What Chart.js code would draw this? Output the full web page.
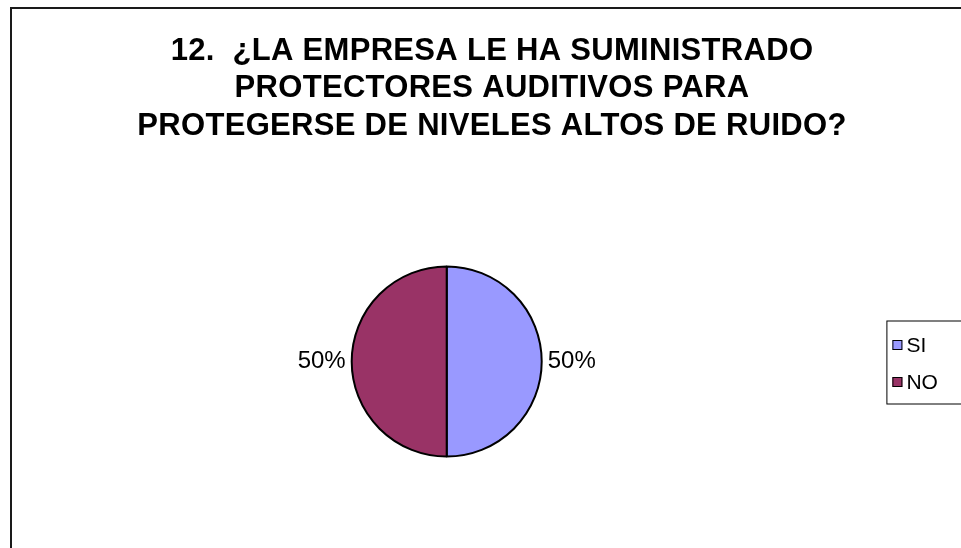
<!DOCTYPE html>
<html>
<head>
<meta charset="utf-8">
<script src="https://cdn.jsdelivr.net/npm/chart.js@4.4.1/dist/chart.umd.min.js"></script>
<style>
    html, body { margin: 0; padding: 0; background: #fff; overflow: hidden; }
    #wrap { position: absolute; left: 0; top: 0; }
</style>
</head>
<body>
<div id="wrap"><canvas id="pieChart" width="1000" height="600"></canvas></div>
<script>
        // Dados
        const categorias = ['SI', 'NO'];
        const valores = [50, 50];
        const cores = ['#9999FF', '#993366'];
        const titulo = [
            '12.  ¿LA EMPRESA LE HA SUMINISTRADO',
            'PROTECTORES AUDITIVOS PARA',
            'PROTEGERSE DE NIVELES ALTOS DE RUIDO?'
        ];

        const FONTE = '"Liberation Sans", Arial, sans-serif';

        // Moldura (borda esquerda e superior do gráfico)
        const moldura = {
            id: 'moldura',
            beforeDraw(chart) {
                const ctx = chart.ctx;
                ctx.save();
                ctx.strokeStyle = '#1a1a1a';
                ctx.lineWidth = 2;
                ctx.beginPath();
                ctx.moveTo(11, chart.height);
                ctx.lineTo(11, 8);
                ctx.lineTo(chart.width, 8);
                ctx.stroke();
                ctx.restore();
                ctx.letterSpacing = '0.3px'; // título um pouco mais largo
            },
            beforeDatasetsDraw(chart) {
                chart.ctx.letterSpacing = '0px';
            }
        };

        // Rótulos de percentagem fora das fatias
        const rotulos = {
            id: 'rotulos',
            afterDatasetsDraw(chart) {
                const ctx = chart.ctx;
                const meta = chart.getDatasetMeta(0);
                const total = valores.reduce((a, b) => a + b, 0);
                ctx.save();
                ctx.letterSpacing = '0px';
                ctx.font = '24px ' + FONTE;
                ctx.fillStyle = '#000';
                ctx.textBaseline = 'middle';
                meta.data.forEach((arc, i) => {
                    const p = arc.getProps(['x', 'y', 'startAngle', 'endAngle', 'outerRadius'], true);
                    const mid = (p.startAngle + p.endAngle) / 2;
                    const r = p.outerRadius + 6;
                    ctx.textAlign = Math.cos(mid) >= 0 ? 'left' : 'right';
                    ctx.fillText(Math.round(valores[i] / total * 100) + '%',
                        p.x + Math.cos(mid) * r, p.y + Math.sin(mid) * r);
                });
                ctx.restore();
            }
        };

        // Legenda com moldura, numa caixa à direita
        const legenda = {
            id: 'legenda',
            beforeInit(chart) {
                const box = {
                    position: 'right',
                    weight: 10,
                    fullSize: false,
                    options: {},
                    left: 0, top: 0, right: 0, bottom: 0, width: 0, height: 0,
                    isHorizontal() { return false; },
                    update(maxWidth, maxHeight) {
                        this.width = 90.6;
                        this.height = maxHeight;
                    },
                    draw() {
                        const ctx = chart.ctx;
                        const ca = chart.chartArea;
                        const cy = (ca.top + ca.bottom) / 2;
                        const fx = this.left - 7;
                        const ds = chart.data.datasets[0];
                        ctx.save();
                        ctx.letterSpacing = '0px';
                        ctx.lineWidth = 1;
                        ctx.strokeStyle = '#000';
                        ctx.strokeRect(fx + 0.5, cy - 40.5, 200, 83);
                        ctx.font = '21px ' + FONTE;
                        ctx.textBaseline = 'middle';
                        ctx.textAlign = 'left';
                        chart.data.labels.forEach((lab, i) => {
                            const y = Math.round(cy - 17 + i * 37);
                            ctx.fillStyle = ds.backgroundColor[i];
                            ctx.fillRect(fx + 6, y - 5, 10, 10);
                            ctx.strokeRect(fx + 6.5, y - 4.5, 9, 9);
                            ctx.fillStyle = '#000';
                            ctx.fillText(lab, fx + 20, y + 1);
                        });
                        ctx.restore();
                    }
                };
                Chart.layouts.addBox(chart, box);
            }
        };

        function initChart() {
            const ctx = document.getElementById('pieChart').getContext('2d');
            new Chart(ctx, {
                type: 'pie',
                data: {
                    labels: categorias,
                    datasets: [{
                        data: valores,
                        backgroundColor: cores,
                        borderColor: '#000',
                        borderWidth: 2,
                        radius: 95
                    }]
                },
                options: {
                    responsive: false,
                    animation: false,
                    layout: { padding: { left: 0, right: 16, top: 0, bottom: 22.3 } },
                    plugins: {
                        title: {
                            display: true,
                            text: titulo,
                            color: '#000',
                            font: { family: FONTE, size: 31, weight: 'bold', lineHeight: 37.6 / 31 },
                            padding: { top: 32.5, bottom: 0 }
                        },
                        legend: { display: false },
                        tooltip: { enabled: false }
                    }
                },
                plugins: [moldura, rotulos, legenda]
            });
        }

        initChart();
</script>
</body>
</html>
